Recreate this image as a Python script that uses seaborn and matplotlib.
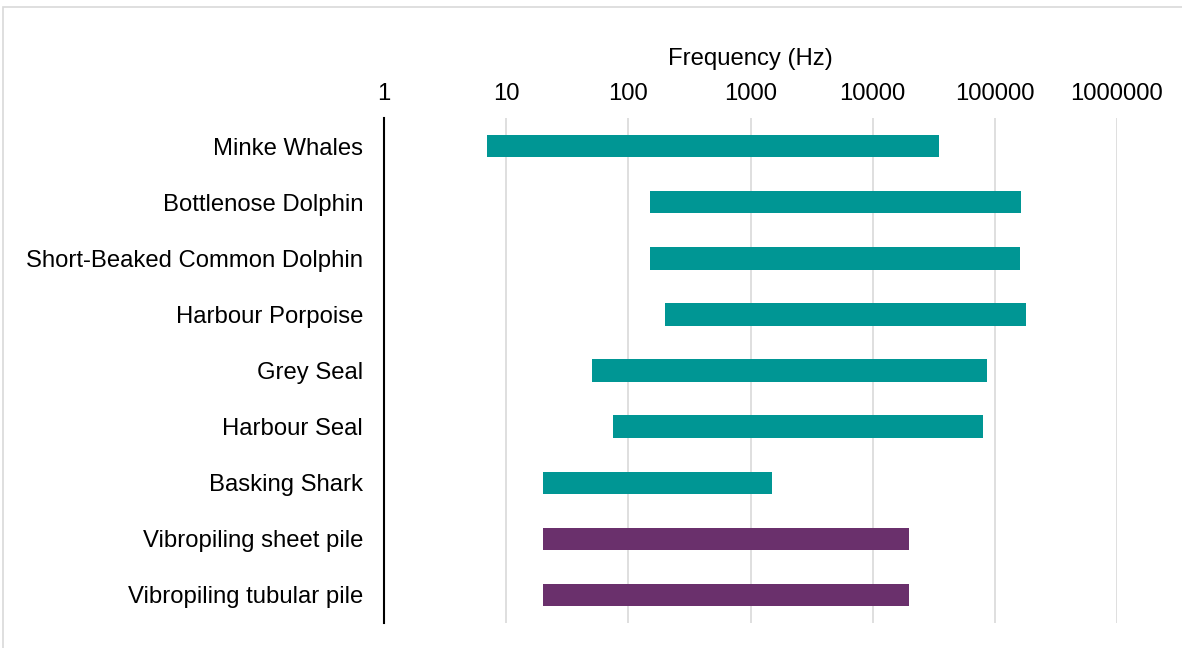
import matplotlib
matplotlib.use("Agg")
import matplotlib.pyplot as plt
import matplotlib.ticker as mticker
from matplotlib.patches import Rectangle
import pandas as pd
import seaborn as sns

# Hearing / emission frequency ranges (Hz)
species = [
    "Minke Whales",
    "Bottlenose Dolphin",
    "Short-Beaked Common Dolphin",
    "Harbour Porpoise",
    "Grey Seal",
    "Harbour Seal",
    "Basking Shark",
    "Vibropiling sheet pile",
    "Vibropiling tubular pile",
]
low_hz = [7, 150, 150, 200, 50, 75, 20, 20, 20]
high_hz = [35000, 164000, 160000, 180000, 86000, 80000, 1500, 20000, 20000]
group = ["Receptor"] * 7 + ["Source"] * 2
tick_values = [1, 10, 100, 1000, 10000, 100000, 1000000]

palette = {"Receptor": "#009694", "Source": "#6A306C"}

df = pd.DataFrame({"species": species, "low": low_hz, "high": high_hz, "group": group})

sns.set_theme(style="white")
plt.rcParams["font.family"] = ["Liberation Sans", "DejaVu Sans"]

FS = 17.2

fig = plt.figure(figsize=(11.82, 6.48), dpi=100)
ax = fig.add_axes([384 / 1182, 1 - 623 / 648, (1117 - 384) / 1182, (623 - 118) / 648])

sns.barplot(
    data=df, x="high", y="species", hue="group", palette=palette,
    order=species, dodge=False, width=0.4, legend=False, ax=ax, orient="h",
    saturation=1,
)

# turn each bar into a floating range low..high
for patch in ax.patches:
    idx = int(round(patch.get_y() + patch.get_height() / 2))
    if 0 <= idx < len(species) and patch.get_width() > 0:
        patch.set_x(df["low"][idx])
        patch.set_width(df["high"][idx] - df["low"][idx])
        patch.set_edgecolor("none")

ax.set_xscale("log")
ax.set_xlim(1, 1e6)
ax.set_ylim(len(species) - 0.5, -0.5)
ax.xaxis.set_major_locator(mticker.FixedLocator(tick_values))
ax.xaxis.set_minor_locator(mticker.NullLocator())
ax.xaxis.set_major_formatter(mticker.FuncFormatter(lambda v, p: f"{int(round(v))}"))
ax.xaxis.tick_top()
ax.xaxis.set_label_position("top")
ax.tick_params(axis="x", length=0, pad=9.5, labelsize=FS, colors="black")
ax.tick_params(axis="y", length=0, pad=15, labelsize=FS, colors="black")
ax.set_xlabel("Frequency (Hz)", fontsize=FS, labelpad=13, color="black")
ax.set_ylabel("")

ax.grid(axis="x", color="#D9D9D9", linewidth=1.2)
ax.set_axisbelow(True)
for side in ["top", "right", "bottom"]:
    ax.spines[side].set_visible(False)
ax.spines["left"].set_color("black")
ax.spines["left"].set_linewidth(1.5)
ax.spines["left"].set_zorder(5)

# chart frame (only its top and left edges fall inside the canvas)
fig.patches.append(Rectangle((3 / 1182, -1), 2, 2 - 7 / 648, transform=fig.transFigure,
                             fill=False, edgecolor="#D9D9D9", linewidth=1.2))

fig.savefig("out.png", dpi=100, facecolor="white")
